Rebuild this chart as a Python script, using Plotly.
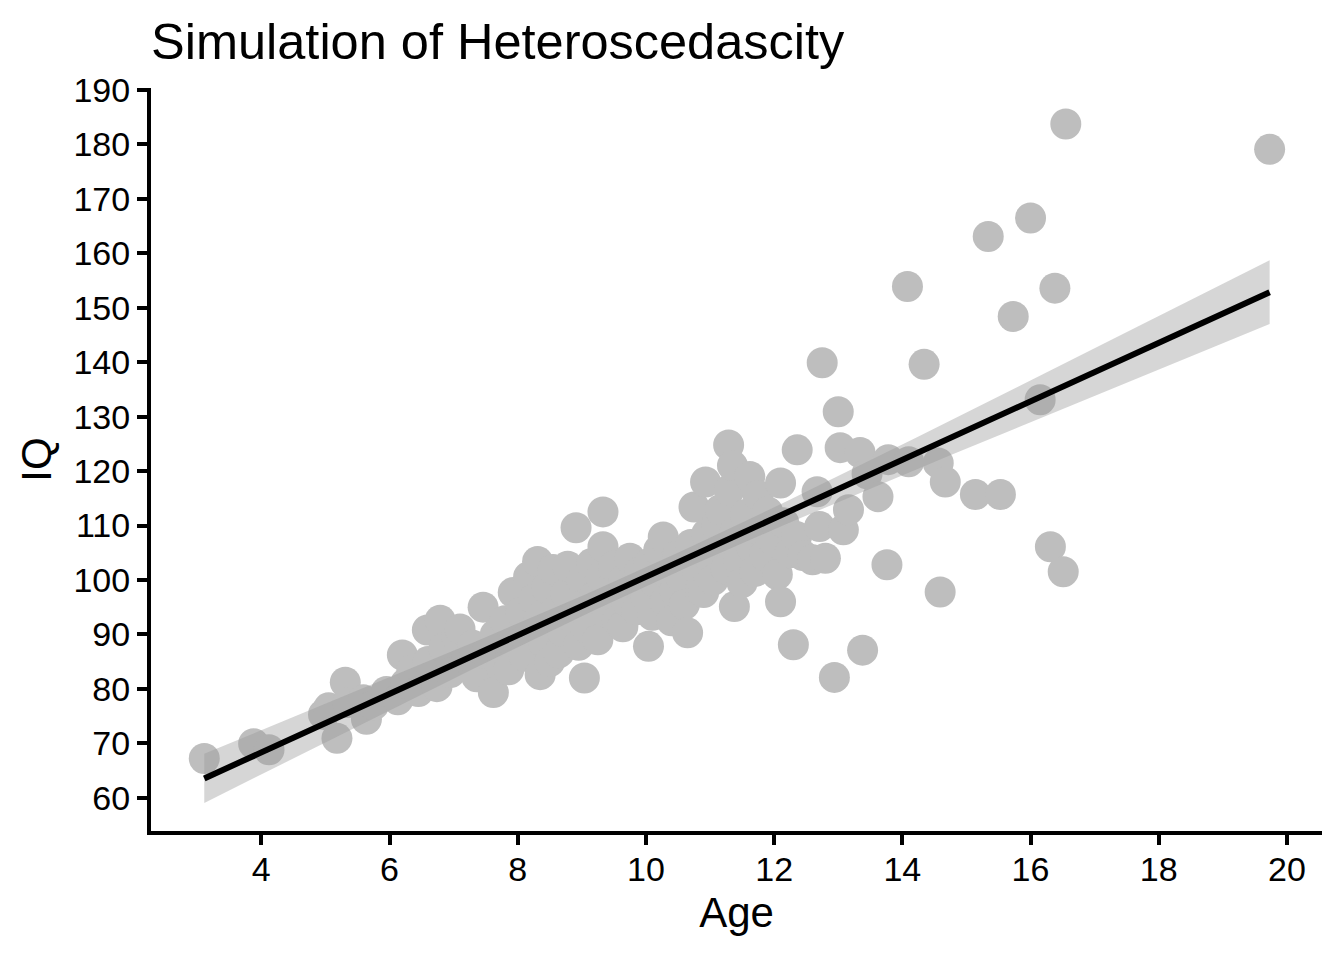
import numpy as np
import plotly.graph_objs as go

# simulated ages and IQ scores
age = [3.11, 3.88, 4.12, 4.97, 5.05, 5.18, 5.31, 5.35, 5.59, 5.64,
       5.75, 5.95, 6.13, 6.20, 6.25, 6.35, 6.45, 6.59, 6.60, 6.74,
       6.79, 6.85, 6.95, 7.05, 7.10, 7.20, 7.30, 7.36, 7.46, 7.50,
       7.62, 7.65, 7.75, 7.80, 7.86, 7.93, 7.95, 8.05, 8.10, 8.17,
       8.20, 8.25, 8.31, 8.35, 8.35, 8.40, 8.45, 8.50, 8.55, 8.60,
       8.64, 8.70, 8.75, 8.78, 8.85, 8.91, 8.95, 9.00, 9.04, 9.05,
       9.10, 9.15, 9.20, 9.25, 9.30, 9.33, 9.33, 9.40, 9.45, 9.50,
       9.55, 9.64, 9.65, 9.70, 9.75, 9.80, 9.85, 9.90, 10.00, 10.04,
       10.05, 10.10, 10.15, 10.20, 10.27, 10.30, 10.35, 10.40, 10.45, 10.50,
       10.55, 10.60, 10.65, 10.70, 10.75, 10.80, 10.85, 10.90, 10.93, 10.95,
       11.00, 11.05, 11.10, 11.16, 11.20, 11.25, 11.29, 11.30, 11.35, 11.38,
       11.40, 11.45, 11.50, 11.55, 11.62, 11.65, 11.70, 11.75, 11.80, 11.85,
       11.90, 12.00, 12.05, 12.10, 12.10, 12.15, 12.25, 12.30, 12.35, 12.36,
       12.45, 12.60, 12.67, 12.71, 12.75, 12.80, 12.94, 13.00, 13.03, 13.08,
       13.16, 13.34, 13.38, 13.45, 13.62, 13.76, 13.78, 14.08, 14.10, 14.34,
       14.56, 14.59, 14.67, 15.14, 15.34, 15.53, 15.73, 16.00, 16.15, 16.31,
       16.38, 16.51, 16.55, 19.73]

iq = [67.2, 69.9, 68.8, 75.3, 76.5, 70.9, 81.2, 77.5, 78.0, 74.4,
      77.0, 79.5, 78.0, 86.2, 81.0, 83.5, 79.5, 90.8, 85.0, 80.4,
      92.6, 87.5, 83.0, 89.5, 91.0, 85.5, 88.0, 82.2, 95.0, 86.5,
      79.3, 90.0, 84.0, 92.5, 83.5, 97.7, 88.0, 94.0, 86.0, 100.6,
      90.5, 96.5, 103.4, 82.6, 93.0, 88.5, 98.5, 85.0, 101.9, 94.5,
      86.6, 90.5, 97.5, 102.5, 93.0, 109.6, 88.0, 100.0, 82.0, 95.5,
      91.0, 103.0, 97.0, 89.0, 100.5, 112.5, 106.1, 94.0, 98.5, 102.5,
      92.5, 91.4, 100.0, 96.0, 104.0, 98.5, 94.5, 101.5, 97.0, 87.8,
      103.0, 93.5, 99.5, 105.5, 107.9, 96.0, 101.0, 92.5, 98.0, 104.5,
      100.5, 95.5, 90.3, 106.5, 113.4, 102.0, 98.0, 97.7, 118.0, 108.5,
      104.0, 100.0, 110.0, 112.9, 106.5, 102.0, 124.8, 116.5, 121.0, 95.1,
      109.0, 103.5, 99.5, 112.0, 119.0, 106.0, 101.5, 115.5, 109.0, 104.5,
      112.5, 107.0, 101.0, 117.8, 96.0, 110.5, 105.0, 88.1, 108.0, 123.9,
      104.5, 103.7, 116.2, 109.8, 139.9, 104.0, 82.1, 130.9, 124.3, 109.2,
      112.9, 123.4, 87.1, 119.5, 115.3, 102.8, 122.1, 153.9, 121.7, 139.6,
      121.5, 97.8, 118.0, 115.7, 163.1, 115.7, 148.4, 166.5, 133.1, 106.1,
      153.6, 101.5, 183.75, 179.1]

x_ticks = [4, 6, 8, 10, 12, 14, 16, 18, 20]
y_ticks = [60, 70, 80, 90, 100, 110, 120, 130, 140, 150, 160, 170, 180, 190]

# linear fit with 95% confidence band (like geom_smooth(method='lm'))
xa = np.array(age)
ya = np.array(iq)
n = len(xa)
slope, intercept = np.polyfit(xa, ya, 1)
resid = ya - (intercept + slope * xa)
s = np.sqrt(np.sum(resid ** 2) / (n - 2))
sxx = np.sum((xa - xa.mean()) ** 2)
xs = np.linspace(xa.min(), xa.max(), 80)
fit = intercept + slope * xs
se = s * np.sqrt(1.0 / n + (xs - xa.mean()) ** 2 / sxx)
t_crit = 1.975
upper = fit + t_crit * se
lower = fit - t_crit * se

points = go.Scatter(
    x=age, y=iq,
    mode='markers',
    marker=dict(size=31, color='#BEBEBE', line=dict(width=0)),
    hoverinfo='skip',
    showlegend=False
)
band = go.Scatter(
    x=list(xs) + list(xs[::-1]),
    y=list(upper) + list(lower[::-1]),
    fill='toself',
    fillcolor='rgba(153,153,153,0.4)',
    line=dict(width=0),
    mode='lines',
    hoverinfo='skip',
    showlegend=False
)
line = go.Scatter(
    x=xs, y=fit,
    mode='lines',
    line=dict(color='black', width=6),
    hoverinfo='skip',
    showlegend=False
)

# page has an 8px body margin, so the figure is a bit smaller than the window
layout = go.Layout(
    width=1336,
    height=952,
    margin=dict(l=143, r=22, t=80, b=129),
    plot_bgcolor='white',
    paper_bgcolor='white',
    font=dict(family='Liberation Sans, Arial, sans-serif', color='black'),
    title=dict(
        text='Simulation of Heteroscedascity',
        font=dict(size=50.5, color='black'),
        x=0, xref='paper', xanchor='left',
        y=0.9645, yref='container', yanchor='middle'
    ),
    xaxis=dict(
        title=dict(text='Age', font=dict(size=42), standoff=12),
        range=[2.279, 20.547],
        tickvals=x_ticks,
        ticks='outside',
        ticklen=10,
        tickwidth=3.5,
        tickcolor='black',
        tickfont=dict(size=34, color='black'),
        ticklabelstandoff=-5,
        showgrid=False,
        zeroline=False,
        showline=True,
        linecolor='black',
        linewidth=4
    ),
    yaxis=dict(
        title=dict(text='IQ', font=dict(size=42), standoff=10),
        range=[53.88, 190.37],
        tickvals=y_ticks,
        ticks='outside',
        ticklen=10,
        tickwidth=3.5,
        tickcolor='black',
        tickfont=dict(size=34, color='black'),
        showgrid=False,
        zeroline=False,
        showline=True,
        linecolor='black',
        linewidth=4
    )
)

fig = go.Figure(data=[points, band, line], layout=layout)
fig.write_html("out.html")
